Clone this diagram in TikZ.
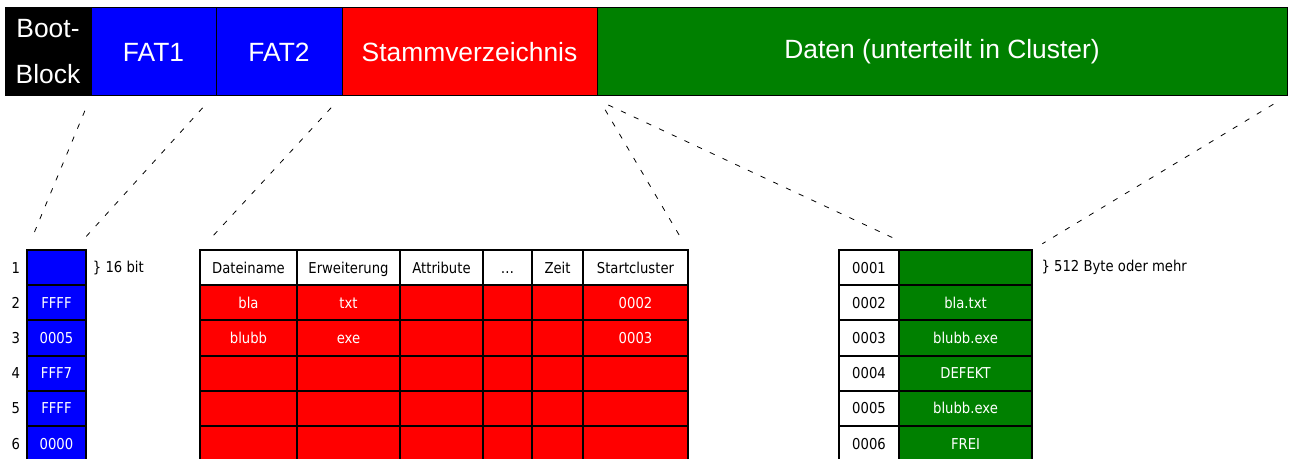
\documentclass[tikz,border=0pt]{standalone}
\usepackage{fontspec}
\setmainfont{Liberation Sans}
\newfontfamily\tabfont[FakeStretch=0.88]{DejaVu Sans}
\usetikzlibrary{positioning}
\definecolor{fatblue}{RGB}{0,0,255}
\definecolor{dirred}{RGB}{255,0,0}
\definecolor{datgreen}{RGB}{0,128,0}
\def\px{0.75pt}

\tikzset{
  seg/.style={rectangle, draw=black, line width=0.75pt, inner sep=0pt, outer sep=0pt,
    minimum height=88*\px, text=white, font=\fontsize{19.8}{34.5}\selectfont},
  cell/.style={rectangle, draw=black, line width=1.5pt, inner sep=0pt, outer sep=0pt,
    minimum height=35.2*\px, anchor=north west, text height=8.2pt, text depth=0pt,
    font=\tabfont\fontsize{11.25}{13}\selectfont},
  hdr/.style={cell, fill=white, text=black},
  fatcell/.style={cell, fill=fatblue, text=white},
  dircell/.style={cell, fill=dirred, text=white},
  datcell/.style={cell, fill=datgreen, text=white},
  note/.style={inner sep=0pt, text=black, font=\tabfont\fontsize{11.25}{13}\selectfont},
  link/.style={draw=black, line width=0.6pt, dash pattern=on 4pt off 6.5pt,
    shorten <=12pt, shorten >=9pt}
}

\begin{document}
\begin{tikzpicture}[x=0.75pt,y=-0.75pt]
\useasboundingbox (0,0) rectangle (1289,459);
\clip (0,0) rectangle (1289,459);
% partitions
\node[seg, fill=black, anchor=north west, minimum width=86*\px, align=center] (boot) at (5,8) {Boot-\\Block};
\node[seg, fill=fatblue, minimum width=125*\px, right=0pt of boot] (fat1) {FAT1};
\node[seg, fill=fatblue, minimum width=126*\px, right=0pt of fat1] (fat2) {FAT2};
\node[seg, fill=dirred, minimum width=255*\px, right=0pt of fat2] (root) {Stammverzeichnis};
\node[seg, fill=datgreen, minimum width=690*\px, right=0pt of root] (daten) {Daten (unterteilt in Cluster)};
%
% FAT
\foreach \v [count=\i] in {{},FFFF,0005,FFF7,FFFF,0000}{
\node[fatcell, minimum width=59*\px] (f\i) at (27,{250+35.2*(\i-1)}) {\v};
\node[note, left=5pt of f\i] (n\i) {\i};
}
\node[note, right=5pt of f1] (bit) {\} 16 bit};
%
% Stammverzeichnis
\foreach \t/\x/\w [count=\c] in {Dateiname/200/97, Erweiterung/297/103, Attribute/400/83,
  \dots/483/49, Zeit/532/51, Startcluster/583/105}{
\node[hdr, minimum width=\w*\px] (d0-\c) at (\x,250) {\t};
}
\foreach \r/\a/\b/\s in {1/bla/txt/0002, 2/blubb/exe/0003, 3///, 4///, 5///}{
\node[dircell, minimum width=97*\px] (d\r-1) at (200,{250+35.2*\r}) {\a};
\node[dircell, minimum width=103*\px] (d\r-2) at (297,{250+35.2*\r}) {\b};
\node[dircell, minimum width=83*\px] (d\r-3) at (400,{250+35.2*\r}) {};
\node[dircell, minimum width=49*\px] (d\r-4) at (483,{250+35.2*\r}) {};
\node[dircell, minimum width=51*\px] (d\r-5) at (532,{250+35.2*\r}) {};
\node[dircell, minimum width=105*\px] (d\r-6) at (583,{250+35.2*\r}) {\s};
}
%
% Cluster
\foreach \v [count=\i] in {{},bla.txt,blubb.exe,DEFEKT,blubb.exe,FREI}{
\node[hdr, minimum width=60*\px] (cn\i) at (839,{250+35.2*(\i-1)}) {000\i};
\node[datcell, minimum width=133*\px] (cd\i) at (899,{250+35.2*(\i-1)}) {\v};
}
\node[note, right=7pt of cd1] (byte) {\} 512 Byte oder mehr};
%
% dashed guides
\draw[link] (fat1.south west) -- (f1.north west);
\draw[link] ([xshift=-2pt]fat2.south west) -- ([xshift=-9pt]f1.north east);
\draw[link] (root.south west) -- (d0-1.north west);
\draw[link] (daten.south west) -- (d0-6.north east);
\draw[link, shorten <=16pt, shorten >=22pt] ([xshift=-6pt]daten.south west) -- ([xshift=15pt]cd1.north west);
\draw[link] (daten.south east) -- (cd1.north east);
\end{tikzpicture}
\end{document}
